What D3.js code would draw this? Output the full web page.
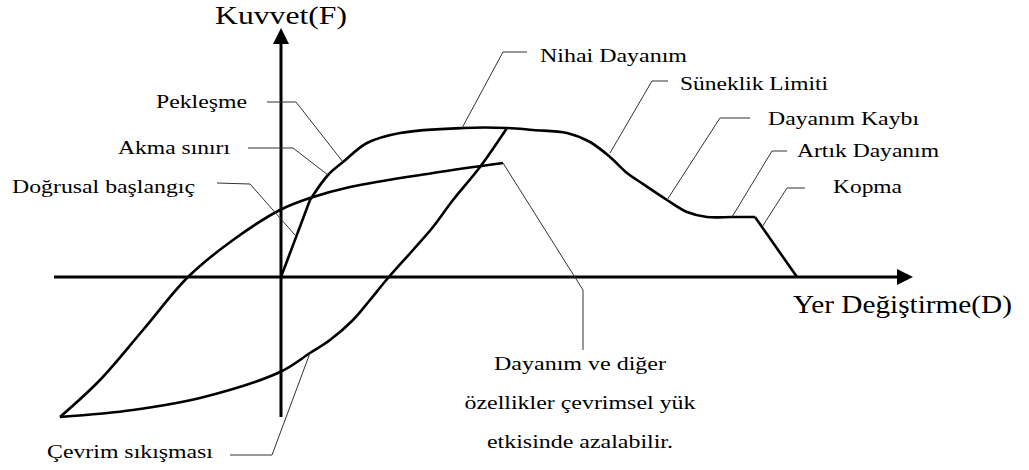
<!DOCTYPE html>
<html>
<head>
<meta charset="utf-8">
<style>
    body { margin: 0; background: #fff; }
</style>
</head>
<body>
<script src="https://d3js.org/d3.v7.min.js"></script>
<script>
    // Backbone (envelope) curve: displacement D and force F
    var envD = [0, 2.9, 4.7, 6.2, 8.6, 11.9, 18.2, 22.6, 25.2, 28.6, 30.9, 32.9, 34.6, 35.9, 38.6, 40.6, 42.6, 45.1, 47.4, 51.6];
    var envF = [0, 7.7, 10.2, 11.5, 13.4, 14.4, 14.9, 14.9, 14.7, 14.4, 13.5, 12.0, 10.4, 9.5, 7.7, 6.5, 6.0, 6.0, 6.0, 0];

    // Cyclic loop: upper (unloading / reverse) branch
    var upD = [-22.1, -18.1, -13.8, -9.3, -4.8, -0.1, 2.9, 6.9, 15.2, 22.2];
    var upF = [-14.0, -10.3, -5.3, 0, 3.7, 6.7, 7.9, 9.0, 10.4, 11.4];

    // Cyclic loop: lower (reloading, pinched) branch
    var lowD = [-22.1, -14.8, -8.1, -0.1, 2.9, 4.9, 7.2, 8.9, 10.7, 13.2, 15.2, 17.2, 19.9, 22.6];
    var lowF = [-14.0, -13.3, -12.1, -9.5, -7.6, -6.3, -4.3, -2.3, -0.1, 2.7, 5.0, 7.7, 11.0, 14.9];

    // Axis titles and callout texts
    var axisTitles = ["Yer Değiştirme(D)", "Kuvvet(F)"];
    var labels = ["Pekleşme", "Akma sınırı", "Doğrusal başlangıç", "Nihai Dayanım", "Süneklik Limiti",
        "Dayanım Kaybı", "Artık Dayanım", "Kopma",
        ["Dayanım ve diğer", "özellikler çevrimsel yük", "etkisinde azalabilir."], "Çevrim sıkışması"];

    const W = 1029, H = 470;
    const font = "'Liberation Serif', 'Times New Roman', 'Liberation Sans', sans-serif";

    const x = d3.scaleLinear().domain([-28.1, 74.8]).range([0, W]);
    const y = d3.scaleLinear().domain([-19.3, 27.7]).range([H, 0]);

    const svg = d3.select("body").append("svg")
        .attr("width", W)
        .attr("height", H);

    // callout layout (chart units): leader polyline, text anchor, text width in px
    var layout = [
        { pts: [[6.2, 11.5], [1.5, 17.5], [-1.4, 17.5]], at: [-3.4, 16.9], anchor: "end", w: [91] },
        { pts: [[4.7, 10.2], [1.2, 12.9], [-3.3, 12.9]], at: [-5.1, 12.3], anchor: "end", w: [112] },
        { pts: [[1.4, 4.2], [-3.1, 9.3], [-6.4, 9.4]], at: [-8.6, 8.4], anchor: "end", w: [183] },
        { pts: [[18.1, 14.9], [22.2, 22.5], [24.6, 22.5]], at: [25.9, 21.5], anchor: "start", w: [147] },
        { pts: [[32.9, 12.4], [37.1, 19.6], [38.7, 19.6]], at: [39.9, 18.7], anchor: "start", w: [148] },
        { pts: [[38.6, 7.7], [43.9, 15.9], [46.9, 15.9]], at: [48.7, 15.2], anchor: "start", w: [151] },
        { pts: [[45.1, 6.0], [49.1, 12.6], [50.6, 12.6]], at: [51.6, 12.0], anchor: "start", w: [142] },
        { pts: [[48.1, 5.0], [50.6, 8.9], [52.4, 8.9]], at: [55.2, 8.4], anchor: "start", w: [69] },
        { pts: [[22.2, 11.4], [30.2, -1.3], [30.2, -7.3]], at: [29.9, -9.3], anchor: "middle", lineGap: 3.9, w: [172, 231, 186] },
        { pts: [[2.9, -7.6], [-0.9, -17.8], [-5.1, -17.8]], at: [-6.8, -18.1], anchor: "end", w: [166] }
    ];

    // Axes
    var xEnd = 63.2, yEnd = 24.9;
    svg.append("line")
        .attr("x1", x(-22.7)).attr("y1", y(0))
        .attr("x2", x(xEnd) - 12).attr("y2", y(0))
        .attr("stroke", "#000").attr("stroke-width", 3);
    svg.append("line")
        .attr("x1", x(0)).attr("y1", y(-14.0))
        .attr("x2", x(0)).attr("y2", y(yEnd) + 12)
        .attr("stroke", "#000").attr("stroke-width", 3);
    // arrow heads
    svg.append("path")
        .attr("d", "M" + x(xEnd) + "," + y(0) + "L" + (x(xEnd) - 16) + "," + (y(0) - 8) + "L" + (x(xEnd) - 16) + "," + (y(0) + 8) + "Z")
        .attr("fill", "#000");
    svg.append("path")
        .attr("d", "M" + x(0) + "," + y(yEnd) + "L" + (x(0) - 8) + "," + (y(yEnd) + 16) + "L" + (x(0) + 8) + "," + (y(yEnd) + 16) + "Z")
        .attr("fill", "#000");

    // Curves
    var smooth = d3.line().x(d => x(d[0])).y(d => y(d[1])).curve(d3.curveCatmullRom.alpha(0.5));
    var straight = d3.line().x(d => x(d[0])).y(d => y(d[1]));

    var env = d3.zip(envD, envF);
    var n = env.length;
    function draw(d, gen, w) {
        svg.append("path").attr("d", gen(d))
            .attr("fill", "none").attr("stroke", "#000")
            .attr("stroke-width", w).attr("stroke-linejoin", "round");
    }
    draw(env.slice(0, 2), straight, 2.6);
    draw(env.slice(1, n - 1), smooth, 2.6);
    draw(env.slice(n - 2), straight, 2.6);
    draw(d3.zip(upD, upF), smooth, 2.6);
    draw(d3.zip(lowD, lowF), smooth, 2.6);

    function label(t, px, py, size, anchor, width) {
        svg.append("text")
            .attr("x", px).attr("y", py)
            .attr("text-anchor", anchor)
            .attr("font-family", font)
            .attr("font-size", size)
            .attr("fill", "#000")
            .attr("textLength", width)
            .attr("lengthAdjust", "spacingAndGlyphs")
            .text(t);
    }

    // Callouts
    layout.forEach(function (c, i) {
        svg.append("path").attr("d", straight(c.pts))
            .attr("fill", "none").attr("stroke", "#333").attr("stroke-width", 1);
        var lines = Array.isArray(labels[i]) ? labels[i] : [labels[i]];
        lines.forEach(function (t, k) {
            label(t, x(c.at[0]), y(c.at[1] - k * (c.lineGap || 0)), 19.5, c.anchor, c.w[k]);
        });
    });

    // Axis titles
    label(axisTitles[0], x(51.2), y(-3.6), 25, "start", 219);
    label(axisTitles[1], x(0), y(25.3), 26, "middle", 132);
</script>
</body>
</html>
